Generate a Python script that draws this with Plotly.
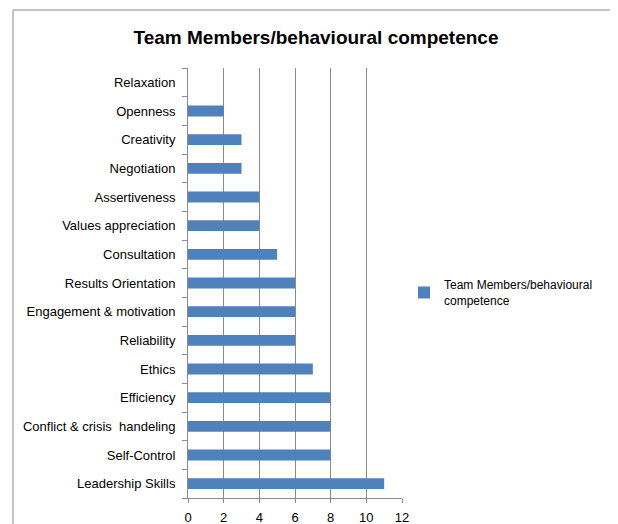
import plotly.graph_objects as go

categories = ["Leadership Skills", "Self-Control", "Conflict & crisis  handeling", "Efficiency",
              "Ethics", "Reliability", "Engagement & motivation", "Results Orientation",
              "Consultation", "Values appreciation", "Assertiveness", "Negotiation",
              "Creativity", "Openness", "Relaxation"]
values = [11, 8, 8, 8, 7, 6, 6, 6, 5, 4, 4, 3, 3, 2, 0]
x_ticks = [0, 2, 4, 6, 8, 10, 12]
series_name = "Team Members/behavioural<br>competence"
title_text = "Team Members/behavioural competence"

OFF = 8  # page body margin
W, H = 618 - OFF, 524 - OFF
L, R, T, B = 188 - OFF, 402 - OFF, 68 - OFF, 498 - OFF

def px(x):
    return (x - OFF - L) / (R - L)

def py(y):
    return (B - (y - OFF)) / (B - T)

fig = go.Figure(go.Bar(
    x=values, y=categories, orientation="h", name=series_name,
    marker=dict(color="#4F81BD", line=dict(width=0)),
    showlegend=True,
))

fig.update_layout(
    width=W, height=H,
    margin=dict(l=L, r=W - R, t=T, b=H - B, autoexpand=False),
    paper_bgcolor="white", plot_bgcolor="white",
    font=dict(family="Liberation Sans, Arial, sans-serif", size=12, color="#000"),
    title=dict(text="<b>" + title_text + "</b>", x=(316 - OFF) / W, xanchor="center",
               y=1 - (37 - OFF) / H, yanchor="middle",
               font=dict(size=19, color="#000")),
    bargap=0.62,
    showlegend=True,
    legend=dict(x=px(404), xanchor="left", y=py(293), yanchor="middle",
                font=dict(size=12, color="#000"), bgcolor="rgba(0,0,0,0)",
                itemwidth=30),
    xaxis=dict(range=[0, 12], tickvals=x_ticks, showgrid=True, gridcolor="#8c8c8c",
               gridwidth=1, showline=True, linecolor="#8c8c8c", ticks="outside",
               ticklen=4, tickcolor="#8c8c8c", zeroline=False, fixedrange=True,
               automargin=False, ticklabelstandoff=3,
               tickfont=dict(size=13, color="#000")),
    yaxis=dict(categoryorder="array", categoryarray=categories, showline=True,
               linecolor="#8c8c8c", ticks="outside", ticklen=5, tickcolor="#8c8c8c",
               tickson="boundaries", showgrid=False, ticklabelstandoff=9,
               automargin=False, tickfont=dict(size=13, color="#000")),
    shapes=[
        dict(type="line", xref="paper", yref="paper", x0=px(13), x1=px(630),
             y0=py(10), y1=py(10), line=dict(color="#b0b0b0", width=1.5)),
        dict(type="line", xref="paper", yref="paper", x0=px(13), x1=px(13),
             y0=py(10), y1=py(540), line=dict(color="#b0b0b0", width=1.5)),
    ],
)

fig.write_html("out.html")
